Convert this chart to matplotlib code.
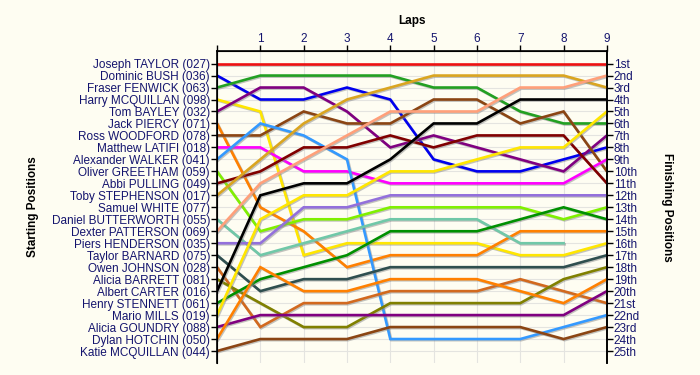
"""
Lap chart - starting vs finishing positions over 9 laps
"""

import matplotlib.pyplot as plt
import matplotlib.patheffects as pe

DRIVERS = [
    "Joseph TAYLOR (027)", "Dominic BUSH (036)", "Fraser FENWICK (063)",
    "Harry MCQUILLAN (098)", "Tom BAYLEY (032)", "Jack PIERCY (071)",
    "Ross WOODFORD (078)", "Matthew LATIFI (018)", "Alexander WALKER (041)",
    "Oliver GREETHAM (059)", "Abbi PULLING (049)", "Toby STEPHENSON (017)",
    "Samuel WHITE (077)", "Daniel BUTTERWORTH (055)", "Dexter PATTERSON (069)",
    "Piers HENDERSON (035)", "Taylor BARNARD (075)", "Owen JOHNSON (028)",
    "Alicia BARRETT (081)", "Albert CARTER (016)", "Henry STENNETT (061)",
    "Mario MILLS (019)", "Alicia GOUNDRY (088)", "Dylan HOTCHIN (050)",
    "Katie MCQUILLAN (044)",
]

COLORS = [
    "#ee1111", "#0000ee", "#22a022", "#ffe600", "#800080", "#ff8000",
    "#8b4513", "#ff00ff", "#3399ff", "#80f000", "#800000", "#daa520",
    "#999999", "#70c8a8", "#ffa07a", "#9370db", "#2f4f4f", "#d2691e",
    "#808000", "#000000", "#009000", "#ffe600", "#800080", "#ff8000",
    "#8b4513",
]

# position at lap 0..9 (empty = no data)
POSITIONS = [
    [1, 1, 1, 1, 1, 1, 1, 1, 1, 1],
    [2, 4, 4, 3, 4, 9, 10, 10, 9, 8],
    [3, 2, 2, 2, 2, 3, 3, 5, 6, 6],
    [4, 5, 17, 16, 16, 16, 16, 17, 17, 16],
    [5, 3, 3, 5, 8, 7, 8, 9, 10, 7],
    [6, 13, 15, 18, 17, 17, 17, 15, 15, 15],
    [7, 7, 5, 6, 6, 4, 4, 6, 5, 10],
    [8, 8, 10, 10, 11, 11, 11, 11, 11, 9],
    [9, 6, 7, 9, 24, 24, 24, 24, 23, 22],
    [10, 15, 14, 14, 13, 13, 13, 13, 14, 13],
    [11, 10, 8, 8, 7, 8, 7, 7, 7, 11],
    [12, 9, 6, 4, 3, 2, 2, 2, 2, 3],
    [],
    [14, 17, 16, 15, 14, 14, 14, 16, 16],
    [15, 11, 9, 7, 5, 5, 5, 3, 3, 2],
    [16, 16, 13, 13, 12, 12, 12, 12, 12, 12],
    [17, 20, 19, 19, 18, 18, 18, 18, 18, 17],
    [18, 23, 21, 21, 20, 20, 20, 19, 20, 21],
    [19, 21, 23, 23, 21, 21, 21, 21, 19, 18],
    [20, 12, 11, 11, 9, 6, 6, 4, 4, 4],
    [21, 19, 18, 17, 15, 15, 15, 14, 13, 14],
    [22, 14, 12, 12, 10, 10, 9, 8, 8, 5],
    [23, 22, 22, 22, 22, 22, 22, 22, 22, 20],
    [24, 18, 20, 20, 19, 19, 19, 20, 21, 19],
    [25, 24, 24, 24, 23, 23, 23, 23, 24, 23],
]

FINISH_LABELS = [
    "1st", "2nd", "3rd", "4th", "5th", "6th", "7th", "8th", "9th", "10th",
    "11th", "12th", "13th", "14th", "15th", "16th", "17th", "18th", "19th",
    "20th", "21st", "22nd", "23rd", "24th", "25th",
]

LAP_LABELS = ["", "1", "2", "3", "4", "5", "6", "7", "8", "9"]

BG = "#fefdf2"
TXT = "#14146e"

plt.rcParams["font.family"] = ["Liberation Sans", "DejaVu Sans"]

fig = plt.figure(figsize=(7, 3.75), dpi=100, facecolor=BG)
ax = fig.add_axes([0.31, 0.032, 0.557, 0.832], facecolor=BG)

shadow = [pe.SimpleLineShadow(offset=(0.8, -0.8), shadow_color="#888888", alpha=0.5), pe.Normal()]
for pos, col in zip(POSITIONS, COLORS):
    if not pos:
        continue
    ax.plot(range(len(pos)), pos, color=col, lw=1.9, solid_joinstyle="miter",
            path_effects=shadow, zorder=3)

n = len(DRIVERS)
ax.set_xlim(0, 9)
ax.set_ylim(n + 1, -0.05)

ax.set_yticks(range(1, n + 1))
ax.set_yticklabels(DRIVERS, fontsize=8.5, color=TXT)
ax.set_xticks(range(10))
ax.set_xticklabels(LAP_LABELS, fontsize=8.5, color=TXT)
ax.xaxis.tick_top()
ax.xaxis.set_label_position("top")
ax.set_xlabel("Laps", fontsize=8.5, fontweight="bold", labelpad=7)
ax.set_ylabel("Starting Positions", fontsize=8.5, fontweight="bold", labelpad=9)
ax.tick_params(axis="y", length=4, width=1, pad=1, color="black")
ax.tick_params(axis="x", length=4, width=1, pad=0, color="black")

ax.grid(True, color="#e4e4e0", lw=0.8, zorder=0)

ax.spines["bottom"].set_visible(False)
for s in ("top", "left", "right"):
    ax.spines[s].set_linewidth(1.2)

ax2 = ax.twinx()
ax2.set_ylim(ax.get_ylim())
ax2.set_yticks(range(1, n + 1))
ax2.set_yticklabels(FINISH_LABELS, fontsize=8.5, color=TXT)
ax2.tick_params(axis="y", length=4, width=1, pad=1)
ax2.set_ylabel("Finishing Positions", fontsize=8.5, fontweight="bold",
               rotation=270, labelpad=24)
ax2.spines["bottom"].set_visible(False)
ax2.spines["right"].set_linewidth(1.2)

fig.savefig("out.png", dpi=100, facecolor=BG)
